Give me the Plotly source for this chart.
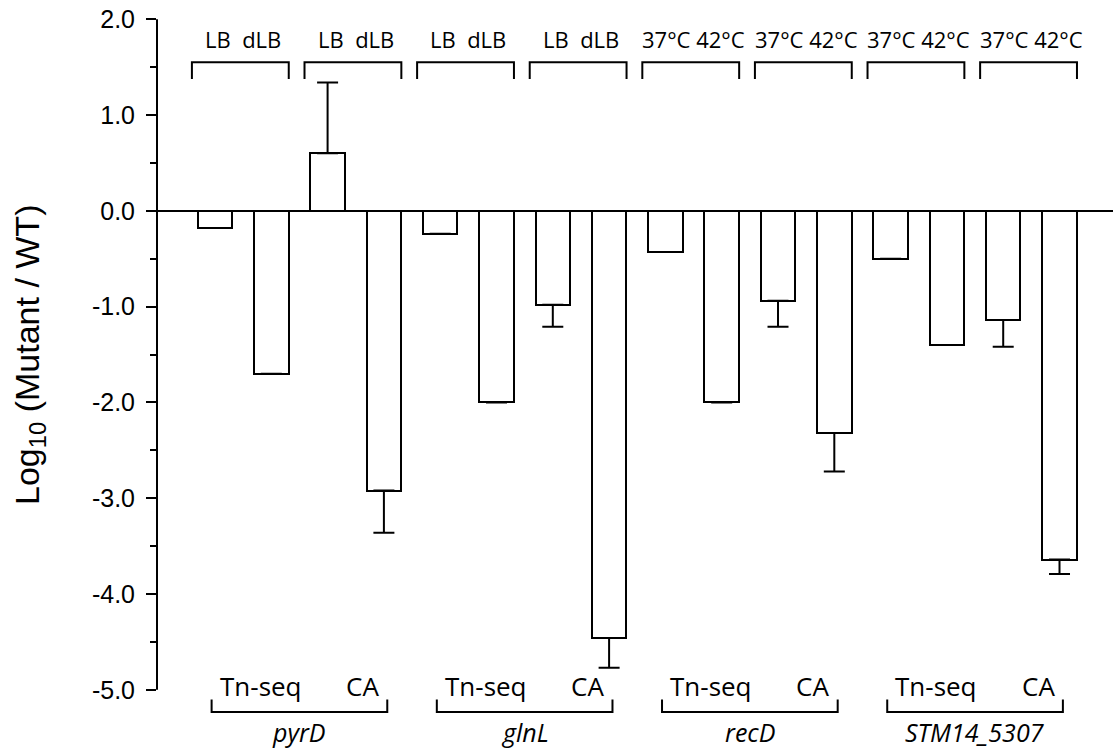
import plotly.graph_objects as go

# ---------------- data ----------------
genes = ["pyrD", "glnL", "recD", "STM14_5307"]
methods = ["Tn-seq", "CA"]
gene_conditions = {
    "pyrD": "LB  dLB",
    "glnL": "LB  dLB",
    "recD": "37°C 42°C",
    "STM14_5307": "37°C 42°C",
}
values = [-0.18, -1.70, 0.60, -2.92,
          -0.24, -2.00, -0.98, -4.46,
          -0.43, -2.00, -0.94, -2.32,
          -0.50, -1.40, -1.14, -3.64]
err_plus = [0, 0, 0.74, 0,
            0, 0, 0, 0,
            0, 0, 0, 0,
            0, 0, 0, 0]
err_minus = [0, 0, 0, 0.44,
             0, 0, 0.23, 0.31,
             0, 0, 0.27, 0.40,
             0, 0, 0.28, 0.15]
ytick_vals = [-5, -4, -3, -2, -1, 0, 1, 2]
ytick_labels = ["-5.0", "-4.0", "-3.0", "-2.0", "-1.0", "0.0", "1.0", "2.0"]
yminor_vals = [-4.5, -3.5, -2.5, -1.5, -0.5, 0.5, 1.5]

# ---------------- layout constants ----------------
W, H = 1115, 755
XR = [-1.03, 15.95]
YR = [-5.68, 2.20]
BAR_W = 0.613
TICK_FONT = "Liberation Sans, Arial, sans-serif"
LBL_FONT = "Open Sans, Noto Sans, sans-serif"

x = list(range(len(values)))

fig = go.Figure()
fig.add_trace(go.Bar(
    x=x, y=values, width=BAR_W,
    marker=dict(color="white", line=dict(color="black", width=2)),
    error_y=dict(type="data", symmetric=False, array=err_plus, arrayminus=err_minus,
                 color="black", thickness=2, width=10.5),
    showlegend=False,
))

shapes = []
annotations = []

# y axis line from -5 to 2
shapes.append(dict(type="line", xref="paper", yref="y", x0=0, x1=0, y0=-5, y1=2,
                   line=dict(color="black", width=2)))

LINE = dict(color="black", width=2)
for gi, g in enumerate(genes):
    base = gi * 4
    gmid = base + 1.5
    # top brackets + condition labels, one per pair
    for p in range(2):
        pmid = base + 2 * p + 0.5 - 0.05
        half = 0.86
        yt, yl = 1.55, 1.375
        shapes.append(dict(type="path", xref="x", yref="y",
                           path=f"M {pmid-half},{yl} L {pmid-half},{yt} L {pmid+half},{yt} L {pmid+half},{yl}",
                           line=LINE))
        annotations.append(dict(x=base + 2 * p + 0.5, y=1.79, xref="x", yref="y",
                                text=gene_conditions[g], showarrow=False,
                                font=dict(family=LBL_FONT, size=22, color="black")))
    # bottom labels
    annotations.append(dict(x=gmid - 1.45, y=-4.96, xref="x", yref="y", xanchor="left",
                            text=methods[0], showarrow=False,
                            font=dict(family=LBL_FONT, size=26, color="black")))
    annotations.append(dict(x=gmid + 1.45, y=-4.96, xref="x", yref="y", xanchor="right",
                            text=methods[1], showarrow=False,
                            font=dict(family=LBL_FONT, size=26, color="black")))
    half = 1.56
    shapes.append(dict(type="path", xref="x", yref="y",
                       path=f"M {gmid-half},-5.10 L {gmid-half},-5.23 L {gmid+half},-5.23 L {gmid+half},-5.10",
                       line=LINE))
    annotations.append(dict(x=gmid, y=-5.44, xref="x", yref="y",
                            text=f"<i>{g}</i>", showarrow=False,
                            font=dict(family=LBL_FONT, size=25, color="black")))

# y axis title
annotations.append(dict(x=(30 - 157) / (W - 157 - 2), y=1 - 355 / H, xref="paper", yref="paper",
                        text="Log<sub>10</sub> (Mutant / WT)", textangle=-90, showarrow=False,
                        xanchor="center", yanchor="middle",
                        font=dict(family=TICK_FONT, size=34, color="black")))

fig.update_layout(
    width=W, height=H,
    margin=dict(l=157, r=2, t=0, b=0, pad=0),
    paper_bgcolor="white", plot_bgcolor="white",
    shapes=shapes, annotations=annotations,
    bargap=0,
    xaxis=dict(range=XR, visible=False, showgrid=False, zeroline=False),
    yaxis=dict(range=YR, showgrid=False, zeroline=True, zerolinecolor="black", zerolinewidth=2,
               showline=False, tickmode="array", tickvals=ytick_vals, ticktext=ytick_labels,
               ticks="outside", ticklen=10, tickwidth=2, tickcolor="black",
               ticklabelstandoff=6,
               tickfont=dict(family=TICK_FONT, size=25, color="black"),
               minor=dict(tickmode="array", tickvals=yminor_vals, ticks="outside",
                          ticklen=6, tickwidth=2, tickcolor="black", showgrid=False)),
)

fig.write_html("out.html")
